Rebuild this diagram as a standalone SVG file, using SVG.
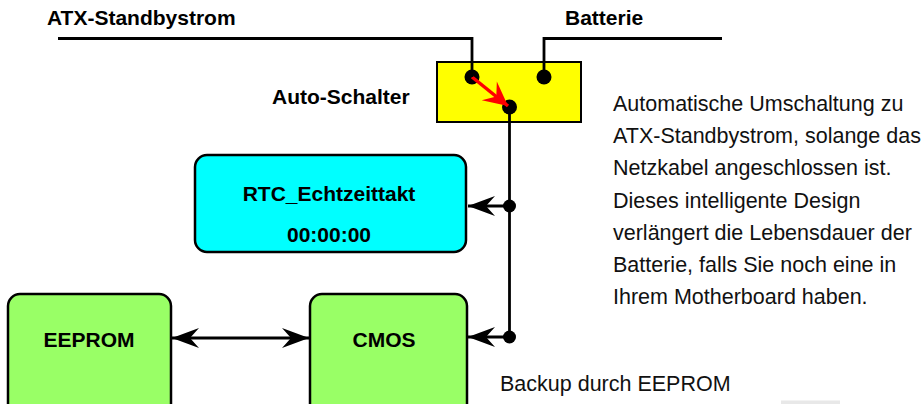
<svg xmlns="http://www.w3.org/2000/svg" width="922" height="404" viewBox="0 0 922 404">
<style>
.wire{fill:none;stroke:#000;stroke-width:2.8}
.lbl{font-family:"Liberation Sans",Arial,sans-serif;font-weight:bold;font-size:21px;fill:#000}
.desc{font-family:"Liberation Sans",Arial,sans-serif;font-size:21.5px;fill:#111}
.box{stroke:#000;stroke-width:2.5}
.dot{fill:#000}
</style>
<defs>
<marker id="ah" markerUnits="userSpaceOnUse" markerWidth="32" markerHeight="26" refX="0" refY="0" viewBox="-28 -13 32 26" orient="auto-start-reverse" overflow="visible">
<path d="M0,0 L-27,-10 L-18,0 L-27,10 Z" fill="#000"/>
</marker>
<marker id="ahr" markerUnits="userSpaceOnUse" markerWidth="32" markerHeight="28" refX="0" refY="0" viewBox="-28 -14 32 28" orient="auto" overflow="visible">
<path d="M0,0 L-24,-12 L-15,0 L-24,12 Z" fill="#ff0000"/>
</marker>
</defs>
<rect width="922" height="404" fill="#fff"/>
<rect x="781" y="400.5" width="59" height="4" fill="#e8e8e8"/>

<g id="labels">
<text class="lbl" x="47" y="25">ATX-Standbystrom</text>
<text class="lbl" x="565" y="25">Batterie</text>
</g>

<g id="auto-schalter">
<rect x="437" y="62" width="144" height="60" fill="#ffff00" stroke="#000" stroke-width="2"/>
<text class="lbl" x="272" y="104">Auto-Schalter</text>
<circle class="dot" cx="472" cy="77" r="7.5"/>
<circle class="dot" cx="544" cy="77" r="7.5"/>
<circle class="dot" cx="509.5" cy="107" r="7.5"/>
<line x1="472" y1="77" x2="508" y2="106" stroke="#ff0000" stroke-width="3.5" marker-end="url(#ahr)"/>
</g>

<g id="rtc">
<rect class="box" x="195" y="155" width="271" height="97" rx="12" fill="#00ffff"/>
<text class="lbl" x="329" y="201" text-anchor="middle">RTC_Echtzeittakt</text>
<text class="lbl" x="329" y="242" text-anchor="middle">00:00:00</text>
</g>

<g id="eeprom">
<rect class="box" x="8" y="294" width="163" height="130" rx="12" fill="#99ff66"/>
<text class="lbl" x="89" y="347" text-anchor="middle">EEPROM</text>
</g>

<g id="cmos">
<rect class="box" x="310" y="294" width="157" height="130" rx="12" fill="#99ff66"/>
<text class="lbl" x="384" y="347" text-anchor="middle">CMOS</text>
</g>

<g id="connectors">
<polyline class="wire" points="58,38.5 472,38.5 472,77"/>
<polyline class="wire" points="722,38.5 544,38.5 544,77"/>
<line class="wire" x1="509.5" y1="107" x2="509.5" y2="337"/>
<circle class="dot" cx="509.5" cy="206" r="6.5"/>
<circle class="dot" cx="509.5" cy="337" r="6.5"/>
<line class="wire" x1="509.5" y1="206" x2="468" y2="206" marker-end="url(#ah)"/>
<line class="wire" x1="509.5" y1="337" x2="468" y2="337" marker-end="url(#ah)"/>
<line class="wire" x1="172" y1="338" x2="309" y2="338" marker-start="url(#ah)" marker-end="url(#ah)"/>
</g>

<g id="description">
<text class="desc" x="613" y="111">Automatische Umschaltung zu</text>
<text class="desc" x="613" y="143">ATX-Standbystrom, solange das</text>
<text class="desc" x="613" y="175">Netzkabel angeschlossen ist.</text>
<text class="desc" x="613" y="207.5">Dieses intelligente Design</text>
<text class="desc" x="613" y="239.5">verlängert die Lebensdauer der</text>
<text class="desc" x="613" y="271.5">Batterie, falls Sie noch eine in</text>
<text class="desc" x="613" y="304">Ihrem Motherboard haben.</text>
<text class="desc" x="500" y="391">Backup durch EEPROM</text>
</g>
</svg>
